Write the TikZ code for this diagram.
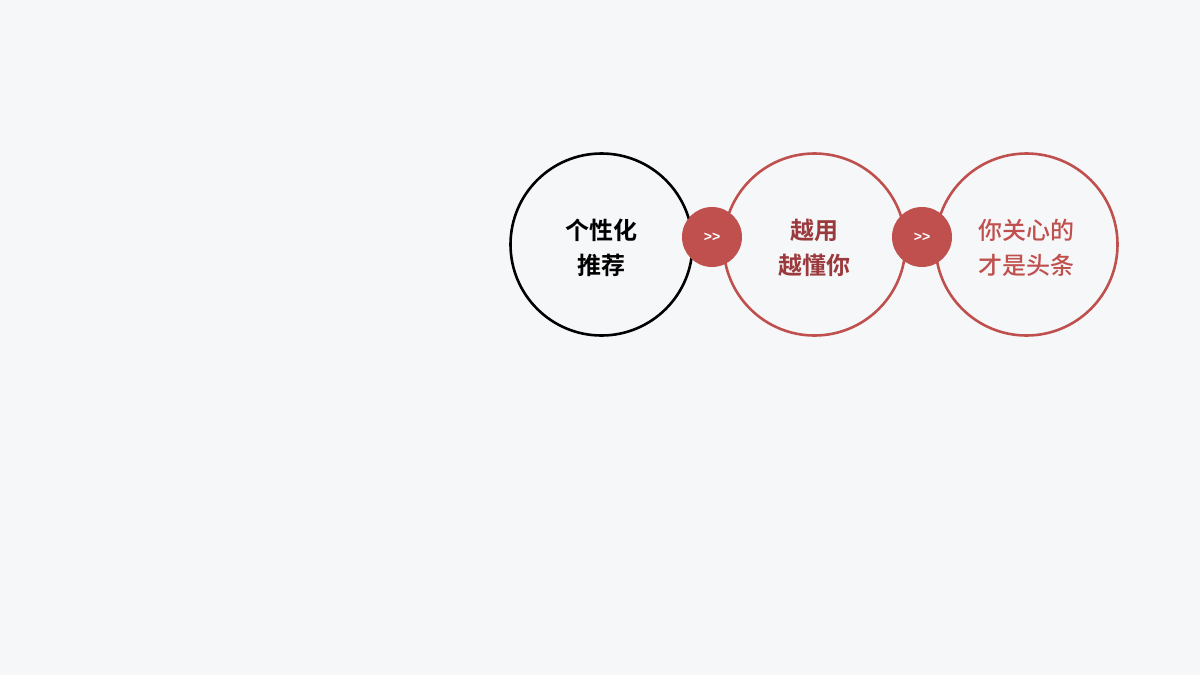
\documentclass[tikz,border=0pt]{standalone}
\usepackage{fontspec}
\newfontfamily\cjkb{Noto Sans CJK SC Bold}
\newfontfamily\cjkm{Noto Sans CJK SC Medium}
\newfontfamily\arrfont{Liberation Sans Bold}
\definecolor{bg}{HTML}{F6F7F9}
\definecolor{redc}{HTML}{C0504D}
\definecolor{darkred}{HTML}{9B3A3C}
\definecolor{lightred}{HTML}{C0504D}
\begin{document}
\begin{tikzpicture}[x=1pt,y=-1pt,
  bigc/.style={circle,minimum size=182pt,inner sep=0pt,line width=2.6pt},
  txt/.style={align=center,inner sep=0pt},
  arrowc/.style={circle,fill=redc,minimum size=60pt,inner sep=0pt,text=white,font=\arrfont\fontsize{14}{16}\selectfont}]
\fill[bg] (0,0) rectangle (1200,675);
\useasboundingbox (0,0) rectangle (1200,675);
\node[bigc,draw=black] (a) at (601.5,244.5) {};
\node[bigc,draw=redc] (b) at (814.5,244.5) {};
\node[bigc,draw=redc] (c) at (1026.5,244.5) {};
\node[txt,text=black,font=\cjkb\fontsize{24}{35}\selectfont] (ta) at (601.5,248) {个性化\\推荐};
\node[txt,text=darkred,font=\cjkb\fontsize{24}{35}\selectfont] (tb) at (814.5,248) {越用\\越懂你};
\node[txt,text=lightred,font=\cjkm\fontsize{24}{35}\selectfont] (tc) at (1026.5,248) {你关心的\\才是头条};
\node[arrowc] (ab) at (712,237) {>{}>};
\node[arrowc] (bc) at (922,237) {>{}>};
\end{tikzpicture}
\end{document}
